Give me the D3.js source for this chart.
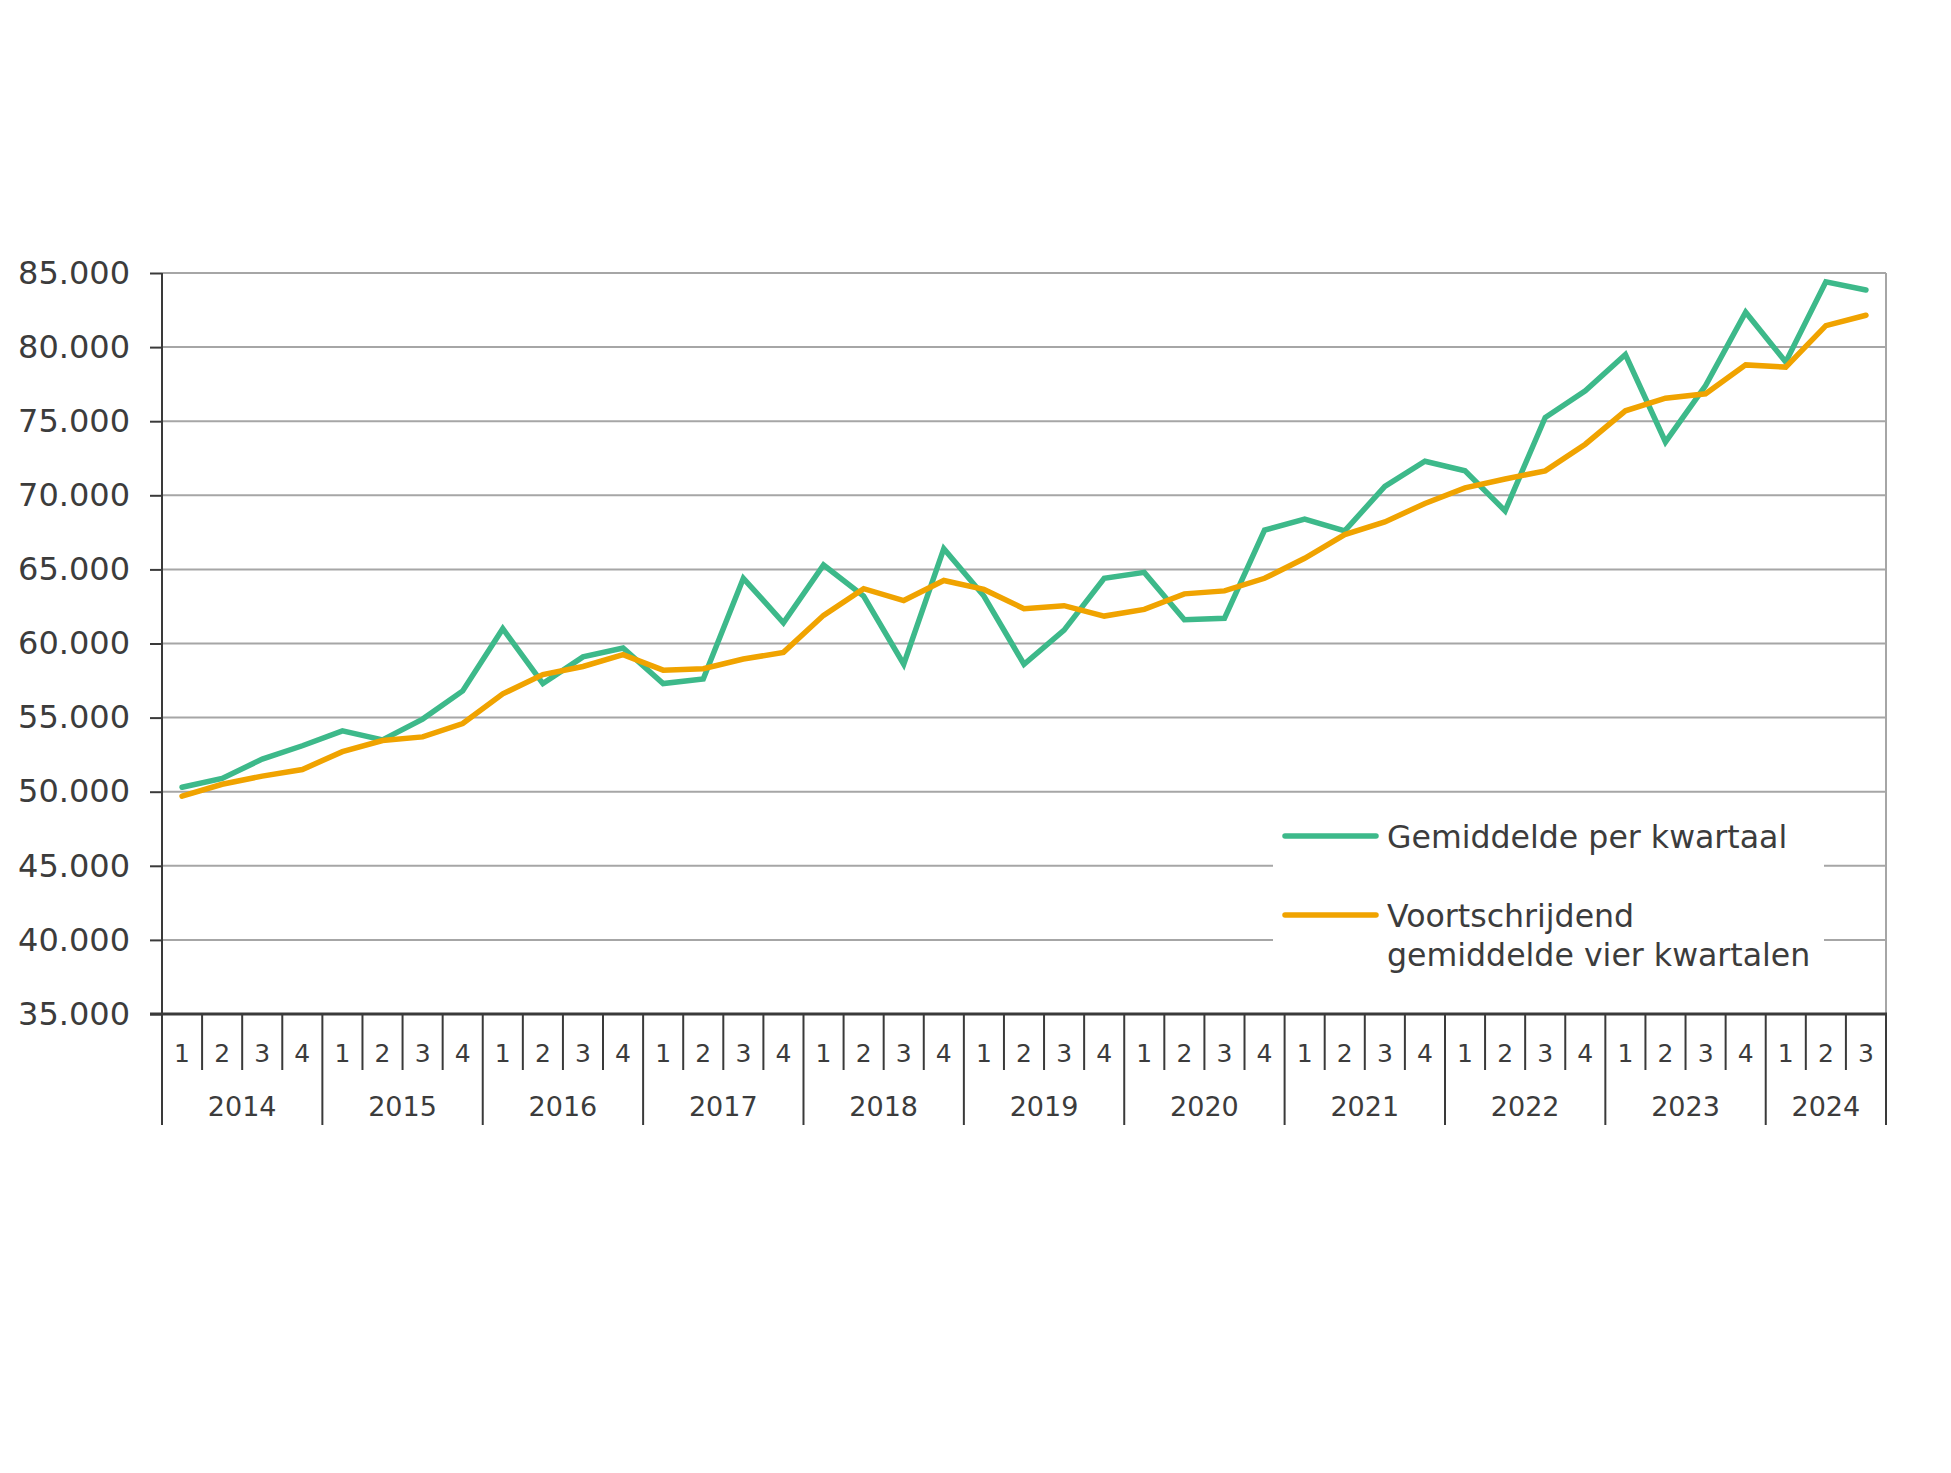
<!DOCTYPE html>
<html>
<head>
<meta charset="utf-8">
<script src="https://cdn.jsdelivr.net/npm/d3@7"></script>
<style>
  html, body { margin: 0; padding: 0; background: #ffffff; }
  svg { display: block; }
  text { font-family: "DejaVu Sans", Verdana, sans-serif; fill: #3c3c3c; }
</style>
</head>
<body>
<script>
// ---- Data ----
const years = [2014, 2015, 2016, 2017, 2018, 2019, 2020, 2021, 2022, 2023, 2024];
const quartersPerYear = [4, 4, 4, 4, 4, 4, 4, 4, 4, 4, 3];
const quarterLabels = ["1", "2", "3", "4"];

const gemiddeldePerKwartaal = [
  50300, 50900, 52200, 53100, 54100, 53500, 54900, 56800,
  61000, 57300, 59100, 59700, 57300, 57600, 64400, 61400,
  65300, 63200, 58600, 66400, 63200, 58600, 60900, 64400,
  64800, 61600, 61700, 67650, 68400, 67600, 70600, 72300,
  71650, 68950, 75250, 77050, 79500, 73600, 77400, 82350,
  79000, 84400, 83850
];
const voortschrijdendGemiddelde = [
  49700, 50500, 51050, 51500, 52700, 53450, 53700, 54600,
  56600, 57900, 58450, 59250, 58200, 58300, 58950, 59400,
  61900, 63700, 62900, 64250, 63650, 62350, 62550, 61850,
  62300, 63350, 63550, 64400, 65750, 67350, 68200, 69450,
  70500, 71100, 71650, 73450, 75700, 76550, 76850, 78800,
  78650, 81450, 82150
];
const yTicks = [35000, 40000, 45000, 50000, 55000, 60000, 65000, 70000, 75000, 80000, 85000];
const seriesNames = ["Gemiddelde per kwartaal", ["Voortschrijdend", "gemiddelde vier kwartalen"]];
const seriesColors = ["#3db98a", "#f0a300"];

(function () {
// ---- Layout ----
const W = 1951, H = 1473;
const pLeft = 162, pRight = 1886, pTop = 273, pBottom = 1014;

const svg = d3.select("body").append("svg").attr("width", W).attr("height", H);

const n = gemiddeldePerKwartaal.length;
const x = d3.scaleBand().domain(d3.range(n)).range([pLeft, pRight]).padding(0);
const y = d3.scaleLinear().domain([35000, 85000]).range([pBottom, pTop]);
const cx = i => x(i) + x.bandwidth() / 2;

const nl = d3.formatLocale({decimal: ",", thousands: ".", grouping: [3], currency: ["€", ""]});
const fmt = nl.format(",.0f");

// gridlines
svg.append("g").selectAll("line").data(yTicks.filter(t => t > 35000)).join("line")
  .attr("x1", pLeft).attr("x2", pRight)
  .attr("y1", d => y(d)).attr("y2", d => y(d))
  .attr("stroke", "#a6a6a6").attr("stroke-width", 2);

// right border (plot area)
svg.append("line").attr("x1", pRight).attr("x2", pRight).attr("y1", pTop).attr("y2", pBottom)
  .attr("stroke", "#a6a6a6").attr("stroke-width", 2);

// y axis
const yAxis = d3.axisLeft(y).tickValues(yTicks).tickSize(12).tickPadding(20).tickFormat(fmt);
const gy = svg.append("g").attr("transform", `translate(${pLeft},0)`).call(yAxis);
gy.select(".domain").remove();
gy.selectAll(".tick line").attr("stroke", "#3a3a3a").attr("stroke-width", 2);
gy.selectAll(".tick text").attr("font-size", 32).attr("fill", "#3c3c3c")
  .style("font-family", '"DejaVu Sans", Verdana, sans-serif');

// axis lines
const axisColor = "#3a3a3a";
svg.append("line").attr("x1", pLeft).attr("x2", pLeft).attr("y1", pTop).attr("y2", 1125)
  .attr("stroke", axisColor).attr("stroke-width", 2);
svg.append("line").attr("x1", pLeft - 12).attr("x2", pRight + 1).attr("y1", pBottom).attr("y2", pBottom)
  .attr("stroke", axisColor).attr("stroke-width", 3);

// category axis: quarters and years
const quarterIdx = [];
let k = 0;
years.forEach((yr, yi) => {
  for (let q = 0; q < quartersPerYear[yi]; q++) {
    quarterIdx.push({i: k, q: quarterLabels[q], yearIdx: yi, first: q === 0});
    k++;
  }
});
const gx = svg.append("g");
gx.selectAll("text.q").data(quarterIdx).join("text").attr("class", "q")
  .attr("x", d => cx(d.i)).attr("y", 1062)
  .attr("text-anchor", "middle").attr("font-size", 25).text(d => d.q);
gx.selectAll("line.qd").data(quarterIdx.filter(d => !d.first)).join("line").attr("class", "qd")
  .attr("x1", d => x(d.i)).attr("x2", d => x(d.i)).attr("y1", pBottom).attr("y2", 1070)
  .attr("stroke", axisColor).attr("stroke-width", 2);
const yearStarts = [];
let s = 0;
years.forEach((yr, yi) => { yearStarts.push({yr, start: s, count: quartersPerYear[yi]}); s += quartersPerYear[yi]; });
gx.selectAll("line.yd").data(yearStarts.slice(1).map(d => x(d.start)).concat([pRight])).join("line").attr("class", "yd")
  .attr("x1", d => d).attr("x2", d => d).attr("y1", pBottom).attr("y2", 1125)
  .attr("stroke", axisColor).attr("stroke-width", 2);
gx.selectAll("text.yr").data(yearStarts).join("text").attr("class", "yr")
  .attr("x", d => (x(d.start) + x(d.start + d.count - 1) + x.bandwidth()) / 2)
  .attr("y", 1116).attr("text-anchor", "middle").attr("font-size", 27).text(d => d.yr);

// lines
const line = d3.line().x((d, i) => cx(i)).y(d => y(d));
[gemiddeldePerKwartaal, voortschrijdendGemiddelde].forEach((ser, si) => {
  svg.append("path").datum(ser).attr("d", line)
    .attr("fill", "none").attr("stroke", seriesColors[si]).attr("stroke-width", 5.5)
    .attr("stroke-linejoin", "miter").attr("stroke-linecap", "round");
});

// legend
const lg = svg.append("g");
lg.append("rect").attr("x", 1273).attr("y", 800).attr("width", 551).attr("height", 188).attr("fill", "#ffffff");
const legendY = [836, 915];
seriesNames.forEach((name, si) => {
  lg.append("line").attr("x1", 1285).attr("x2", 1376).attr("y1", legendY[si]).attr("y2", legendY[si])
    .attr("stroke", seriesColors[si]).attr("stroke-width", 5.5).attr("stroke-linecap", "round");
  const lines = Array.isArray(name) ? name : [name];
  const t = lg.append("text").attr("x", 1387).attr("y", legendY[si] + 12).attr("font-size", 31.6);
  lines.forEach((ln, li) => {
    t.append("tspan").attr("x", 1387).attr("dy", li === 0 ? 0 : 39).text(ln);
  });
});
})();
</script>
</body>
</html>
